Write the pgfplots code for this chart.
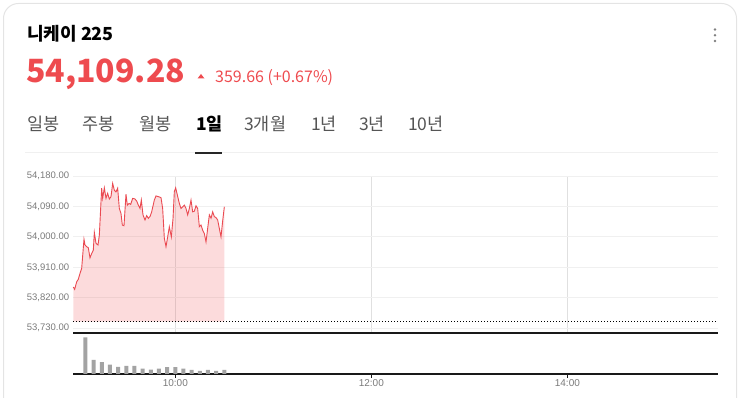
\documentclass[border=0pt]{standalone}
\usepackage{pgfplots}
\pgfplotsset{compat=1.18}
\usepackage{pgfplotstable}
\usepackage{fontspec}
\setmainfont{Liberation Sans}
\newfontfamily\kr{Noto Sans CJK KR}
\definecolor{upred}{HTML}{EE4B4F}
\definecolor{lnred}{HTML}{EA4A52}
\definecolor{tickgray}{HTML}{7A7A7A}
\definecolor{tabgray}{HTML}{555555}
\definecolor{bargray}{HTML}{A3A3A3}
\definecolor{hgrid}{HTML}{F0F0F0}
\definecolor{vgrid}{HTML}{E0E0E0}
\definecolor{cardline}{HTML}{E4E4E4}
\pgfplotstableread{
x y
-2.43 53852
-1.61 53845
-0.39 53867
0.63 53875
1.65 53892
2.68 53907
4.10 53993
4.71 53976
5.74 53971
6.75 53968
7.77 53938
8.80 53951
9.81 53961
10.43 54013
11.45 53981
12.67 53976
13.49 54005
14.92 54144
15.53 54114
16.55 54145
17.57 54114
18.59 54129
19.61 54112
20.63 54119
21.65 54158
22.67 54138
23.69 54133
24.71 54144
25.73 54084
26.75 54069
27.57 54035
28.59 54033
29.81 54126
30.63 54094
31.65 54099
32.67 54096
33.90 54114
35.32 54112
36.35 54106
37.36 54094
38.38 54084
39.20 54109
40.22 54065
41.45 54050
42.47 54063
43.48 54055
44.51 54060
45.53 54074
47.16 54109
48.18 54121
49.61 54119
51.24 54116
52.26 54084
53.28 53996
54.30 53971
55.33 54000
56.34 54030
57.57 54000
58.59 54054
59.40 54134
60.22 54145
61.24 54124
62.46 54099
63.49 54084
64.51 54089
65.52 54094
66.55 54084
67.57 54065
68.59 54084
69.61 54109
70.63 54074
71.65 54076
72.67 54092
73.69 54084
74.71 54030
75.73 54035
76.75 54020
77.77 54010
78.79 53985
79.81 54025
80.83 54065
81.86 54055
82.87 54074
83.89 54060
84.91 54057
85.93 54050
86.95 54025
87.97 54000
88.99 54047
90.01 54089
}\pricedata
\pgfplotstableread{
x y
-2.43 53749.62
-2.43 53852
-1.61 53845
-0.39 53867
0.63 53875
1.65 53892
2.68 53907
4.10 53993
4.71 53976
5.74 53971
6.75 53968
7.77 53938
8.80 53951
9.81 53961
10.43 54013
11.45 53981
12.67 53976
13.49 54005
14.92 54144
15.53 54114
16.55 54145
17.57 54114
18.59 54129
19.61 54112
20.63 54119
21.65 54158
22.67 54138
23.69 54133
24.71 54144
25.73 54084
26.75 54069
27.57 54035
28.59 54033
29.81 54126
30.63 54094
31.65 54099
32.67 54096
33.90 54114
35.32 54112
36.35 54106
37.36 54094
38.38 54084
39.20 54109
40.22 54065
41.45 54050
42.47 54063
43.48 54055
44.51 54060
45.53 54074
47.16 54109
48.18 54121
49.61 54119
51.24 54116
52.26 54084
53.28 53996
54.30 53971
55.33 54000
56.34 54030
57.57 54000
58.59 54054
59.40 54134
60.22 54145
61.24 54124
62.46 54099
63.49 54084
64.51 54089
65.52 54094
66.55 54084
67.57 54065
68.59 54084
69.61 54109
70.63 54074
71.65 54076
72.67 54092
73.69 54084
74.71 54030
75.73 54035
76.75 54020
77.77 54010
78.79 53985
79.81 54025
80.83 54065
81.86 54055
82.87 54074
83.89 54060
84.91 54057
85.93 54050
86.95 54025
87.97 54000
88.99 54047
90.01 54089
90.01 53749.62
}\areadata
\pgfplotstableread{
x v
5 36.3
10 14
15 11.7
20 9.3
25 7
30 8
35 8
40 5.3
45 4.3
50 5.3
55 6.7
60 6.7
65 5.3
70 4
75 3
80 4
85 3
90 4
}\voldata
\begin{document}
\begin{tikzpicture}
\path[use as bounding box] (0pt,0pt) rectangle (740pt,398pt);
% card
\draw[cardline, line width=1pt, rounded corners=15pt] (3.5pt,-20pt) rectangle (736.5pt,394.5pt);
% header
\node[anchor=base west, inner sep=0pt] at (27pt,357pt) {\kr\fontsize{18}{21}\selectfont\bfseries 니케이 225};
\node[anchor=base west, inner sep=0pt, text=upred] at (26pt,315pt) {\kr\fontsize{32}{38}\selectfont\bfseries 54,109.28};
\fill[upred] (197.5pt,319.5pt) -- (204.5pt,319.5pt) -- (201pt,324pt) -- cycle;
\node[anchor=base west, inner sep=0pt, text=upred] at (215pt,315pt) {\kr\fontsize{16}{19}\selectfont 359.66 (+0.67\%)};
% menu dots
\fill[gray] (715pt,368.5pt) circle (1.4pt);
\fill[gray] (715pt,362.8pt) circle (1.4pt);
\fill[gray] (715pt,357pt) circle (1.4pt);
% tabs
\begin{scope}[every node/.style={anchor=base west, inner sep=0pt, text=tabgray, font=\kr\fontsize{17.5}{20}\selectfont}]
\node at (27pt,267pt) {일봉};
\node at (82pt,267pt) {주봉};
\node at (139pt,267pt) {월봉};
\node[text=black, font=\kr\fontsize{17.5}{20}\selectfont\bfseries] at (196pt,267pt) {1일};
\node at (244pt,267pt) {3개월};
\node at (311pt,267pt) {1년};
\node at (359pt,267pt) {3년};
\node at (408pt,267pt) {10년};
\end{scope}
\draw[hgrid, line width=1pt] (25pt,245pt) -- (718pt,245pt);
\draw[black!85, line width=1.5pt] (195pt,245pt) -- (222pt,245pt);

% main price axis
\begin{axis}[
  at={(73pt,65pt)}, anchor=south west,
  scale only axis, width=645pt, height=157pt,
  xmin=-2.63, xmax=392.2, ymin=53716, ymax=54180,
  scaled y ticks=false,
  axis line style={draw=none},
  ytick={53730,53820,53910,54000,54090,54180},
  yticklabels={{53,730.00},{53,820.00},{53,910.00},{54,000.00},{54,090.00},{54,180.00}},
  xtick={60,180,300}, xticklabels={},
  ymajorgrids, xmajorgrids,
  y grid style={hgrid, line width=0.8pt},
  x grid style={vgrid, line width=0.8pt},
  major tick length=0pt, tick style={draw=none},
  yticklabel style={font=\fontsize{9.5}{11}\selectfont, text=tickgray, anchor=east, inner sep=0pt, xshift=-3.7pt},
]
\addplot[fill=upred, fill opacity=0.2, draw=none, mark=none] table[x=x, y=y] {\areadata};
\addplot[lnred, line width=0.9pt, mark=none] table[x=x, y=y] {\pricedata};
\addplot[black, line width=0.9pt, dash pattern=on 1pt off 2pt, mark=none] coordinates {(-2.63,53749.62) (392.2,53749.62)};
\end{axis}

% volume axis
\begin{axis}[
  at={(73pt,24pt)}, anchor=south west,
  scale only axis, width=645pt, height=41pt,
  xmin=-2.63, xmax=392.2, ymin=0, ymax=40.7,
  axis x line=box, axis y line=none,
  axis line style={black!90, line width=1.2pt},
  xtick={60,180,300}, xticklabels={10:00,12:00,14:00},
  ytick=\empty,
  xtick pos=bottom, tick align=outside, major tick length=4pt,
  tick style={black!90, line width=0.8pt},
  xticklabel style={font=\fontsize{10}{12}\selectfont, text=tickgray, anchor=north, inner sep=0pt, yshift=-1.5pt},
]
\addplot[ybar, bar width=4pt, fill=bargray, draw=none] table[x=x, y=v] {\voldata};
\end{axis}
\end{tikzpicture}
\end{document}
